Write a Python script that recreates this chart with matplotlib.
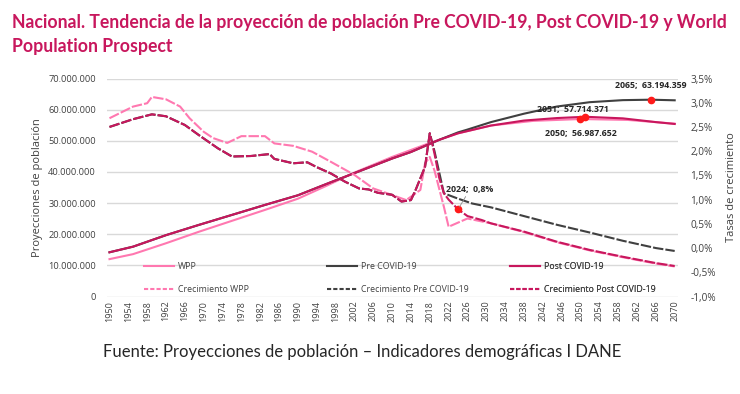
import matplotlib.pyplot as plt
from matplotlib.lines import Line2D
from matplotlib.ticker import FuncFormatter

# poblacion en millones, tasas en %
# Pre y Post COVID-19 comparten la historia hasta 2020
hist_years = [1950, 1955, 1962, 1969, 1976, 1983, 1990, 1997, 2003, 2010, 2014, 2018, 2020]
hist_pop = [14.2, 16.0, 19.7, 23.0, 26.2, 29.4, 32.5, 36.7, 40.2, 44.3, 46.4, 49.0, 50.3]

pre_years = [2024, 2026, 2031, 2038, 2045, 2052, 2059, 2065, 2070]
pre_pop = [52.7, 53.6, 56.0, 58.7, 61.0, 62.4, 63.05, 63.194359, 63.0]

post_years = [2024, 2031, 2038, 2045, 2051, 2059, 2066, 2070]
post_pop = [52.4, 54.9, 56.5, 57.3, 57.714371, 57.2, 56.0, 55.4]

wpp_years = [1950, 1955, 1962, 1969, 1976, 1983, 1990, 1996, 2002, 2010, 2018, 2024, 2031, 2040, 2050, 2060, 2070]
wpp_pop = [12.0, 13.6, 17.1, 20.8, 24.3, 27.8, 31.4, 35.5, 39.8, 44.8, 49.3, 52.4, 54.9, 56.4, 56.987652, 56.7, 55.5]

# tasas de crecimiento
growth_hist_years = [1950, 1955, 1959, 1962, 1966, 1969, 1973, 1976, 1980, 1984, 1985, 1989, 1992,
                     1994, 1997, 2000, 2003, 2005, 2007, 2010, 2012, 2014, 2015, 2017, 2018]
growth_hist = [2.50, 2.66, 2.76, 2.72, 2.54, 2.33, 2.06, 1.89, 1.90, 1.94, 1.84, 1.75, 1.77,
               1.67, 1.54, 1.37, 1.23, 1.21, 1.14, 1.10, 0.96, 0.99, 1.20, 1.68, 2.37]

pre_growth_years = [2019, 2021, 2024, 2027, 2031, 2038, 2045, 2052, 2059, 2066, 2070]
pre_growth = [2.0, 1.13, 1.02, 0.92, 0.84, 0.66, 0.48, 0.32, 0.15, 0.0, -0.06]

post_growth_years = [2019, 2020, 2021, 2022, 2023, 2024, 2026, 2029, 2031, 2038, 2045, 2052, 2059, 2066, 2070]
post_growth = [1.95, 1.45, 1.13, 1.0, 0.9, 0.8, 0.66, 0.58, 0.51, 0.34, 0.13, -0.04, -0.18, -0.31, -0.37]

wpp_growth_years = [1950, 1955, 1958, 1959, 1962, 1965, 1967, 1970, 1972, 1975, 1978, 1983, 1985,
                    1989, 1993, 1997, 2002, 2006, 2009, 2013, 2016, 2017, 2018, 2019, 2021, 2022,
                    2026, 2031, 2038, 2045, 2052, 2059, 2066, 2070]
wpp_growth = [2.68, 2.92, 2.99, 3.12, 3.07, 2.92, 2.68, 2.40, 2.27, 2.17, 2.31, 2.31, 2.16,
              2.11, 1.99, 1.78, 1.51, 1.23, 1.13, 0.99, 1.20, 1.75, 1.88, 1.60, 0.85, 0.44,
              0.61, 0.51, 0.33, 0.12, -0.05, -0.19, -0.32, -0.38]

# puntos marcados: (serie, anio)
marks = [("post_pop", 2051), ("wpp_pop", 2050), ("pre_pop", 2065), ("post_growth", 2024)]

CRIMSON = "#C8175D"
LIGHT = "#FF78B0"
DARK = "#404040"
GRID = "#D9D9D9"
TXT = "#404040"
DASH = (0, (5, 1))        # casi continuo, como se ve en excel
DASH_LEG = (0, (2, 1))

plt.rcParams['font.family'] = ['Open Sans', 'DejaVu Sans']

fig = plt.figure(figsize=(7.4, 3.94), dpi=100)
W, H = 740, 394
ax = fig.add_axes([107 / W, 1 - 296.5 / H, (677.7 - 107) / W, 218 / H])
ax2 = ax.twinx()

pre_x = hist_years + pre_years
pre_y = hist_pop + pre_pop
post_x = hist_years + post_years
post_y = hist_pop + post_pop
pre_gx = growth_hist_years + pre_growth_years
pre_gy = growth_hist + pre_growth
post_gx = growth_hist_years + post_growth_years
post_gy = growth_hist + post_growth

l_wpp, = ax.plot(wpp_years, wpp_pop, color=LIGHT, lw=1.5)
l_pre, = ax.plot(pre_x, pre_y, color=DARK, lw=1.5)
l_post, = ax.plot(post_x, post_y, color=CRIMSON, lw=1.5)

ax2.plot(wpp_growth_years, wpp_growth, color=LIGHT, lw=1.5, ls=DASH)
ax2.plot(pre_gx, pre_gy, color=DARK, lw=1.5, ls=DASH)
ax2.plot(post_gx, post_gy, color=CRIMSON, lw=1.5, ls=DASH)
g_wpp = Line2D([], [], color=LIGHT, lw=1.5, ls=DASH_LEG)
g_pre = Line2D([], [], color=DARK, lw=1.5, ls=DASH_LEG)
g_post = Line2D([], [], color=CRIMSON, lw=1.5, ls=DASH_LEG)

ax.set_xlim(1949.47, 2070.64)
ax.set_ylim(0, 70)
ax2.set_ylim(-1.0, 3.5)

ax.set_yticks(range(0, 71, 10))
ax2.set_yticks([-1.0 + 0.5 * i for i in range(10)])
ax.set_xticks(range(1950, 2071, 4))
ax.tick_params(axis='x', labelrotation=90, labelsize=6.5, length=0, pad=3, labelcolor=TXT)
ax.tick_params(axis='y', labelsize=6.7, length=0, pad=8, labelcolor=TXT)
ax2.tick_params(axis='y', labelsize=7.2, length=0, pad=9, labelcolor=TXT)
ax.yaxis.set_major_formatter(FuncFormatter(
    lambda v, p: "0" if v == 0 else f"{v * 1e6:,.0f}".replace(",", ".")))
ax2.yaxis.set_major_formatter(FuncFormatter(lambda v, p: f"{v:.1f}%".replace(".", ",")))

ax.grid(axis='y', color=GRID, lw=1)
ax.set_axisbelow(True)
for a in (ax, ax2):
    for s in a.spines.values():
        s.set_visible(False)

ax.set_ylabel("Proyecciones de población", fontsize=8, color=TXT, labelpad=4)
ax2.set_ylabel("Tasas de crecimiento", fontsize=8, color=TXT, labelpad=7)

# marcas y etiquetas
series = {
    "post_pop": (ax, post_x, post_y),
    "wpp_pop": (ax, wpp_years, wpp_pop),
    "pre_pop": (ax, pre_x, pre_y),
    "post_growth": (ax2, post_gx, post_gy),
}
offsets = {
    "post_pop": (-12, 7),
    "wpp_pop": (0, -14),
    "pre_pop": (0, 14),
    "post_growth": (12, 20),
}
for name, yr in marks:
    a, xs, ys = series[name]
    v = ys[xs.index(yr)]
    a.plot([yr], [v], 'o', color="#FF1A1A", ms=4.5, zorder=5)
    if a is ax2:
        lab = f"{yr};  {v:.1f}%".replace(".", ",")
        arrow = dict(arrowstyle='-', color="#8C8C8C", lw=0.6, shrinkA=0, shrinkB=2)
    else:
        lab = f"{yr};  " + f"{v * 1e6:,.0f}".replace(",", ".")
        arrow = None
    a.annotate(lab, xy=(yr, v), xytext=offsets[name], textcoords='offset pixels',
               ha='center', va='center', fontsize=6.3, fontweight='bold', color="#262626",
               arrowprops=arrow, zorder=6)

# leyenda en tres columnas fijas
cols = [(l_wpp, g_wpp, "WPP", "Crecimiento WPP", 144),
        (l_pre, g_pre, "Pre COVID-19", "Crecimiento Pre COVID-19", 327),
        (l_post, g_post, "Post COVID-19", "Crecimiento Post COVID-19", 510)]
for h1, h2, t1, t2, xpx in cols:
    leg = ax2.legend([h1, h2], [t1, t2], loc='upper left', bbox_to_anchor=(xpx / W, 1 - 262 / H),
                     bbox_transform=fig.transFigure, frameon=False, fontsize=6.3,
                     handlelength=3.4, handletextpad=0.45, labelspacing=1.55,
                     borderpad=0, borderaxespad=0, labelcolor=TXT)
    ax2.add_artist(leg)

fig.text(12 / W, 1 - 28 / H, "Nacional. Tendencia de la proyección de población Pre COVID-19, Post COVID-19 y World",
         family='Lato', fontweight='bold', fontsize=12.7, color=CRIMSON, va='baseline')
fig.text(12 / W, 1 - 52 / H, "Population Prospect",
         family='Lato', fontweight='bold', fontsize=12.7, color=CRIMSON, va='baseline')
fig.text(103 / W, 1 - 357 / H, "Fuente: Proyecciones de población – Indicadores demográficas I DANE",
         family='Lato', fontsize=12, color="#262626", va='baseline')

fig.savefig("out.png", dpi=100)
